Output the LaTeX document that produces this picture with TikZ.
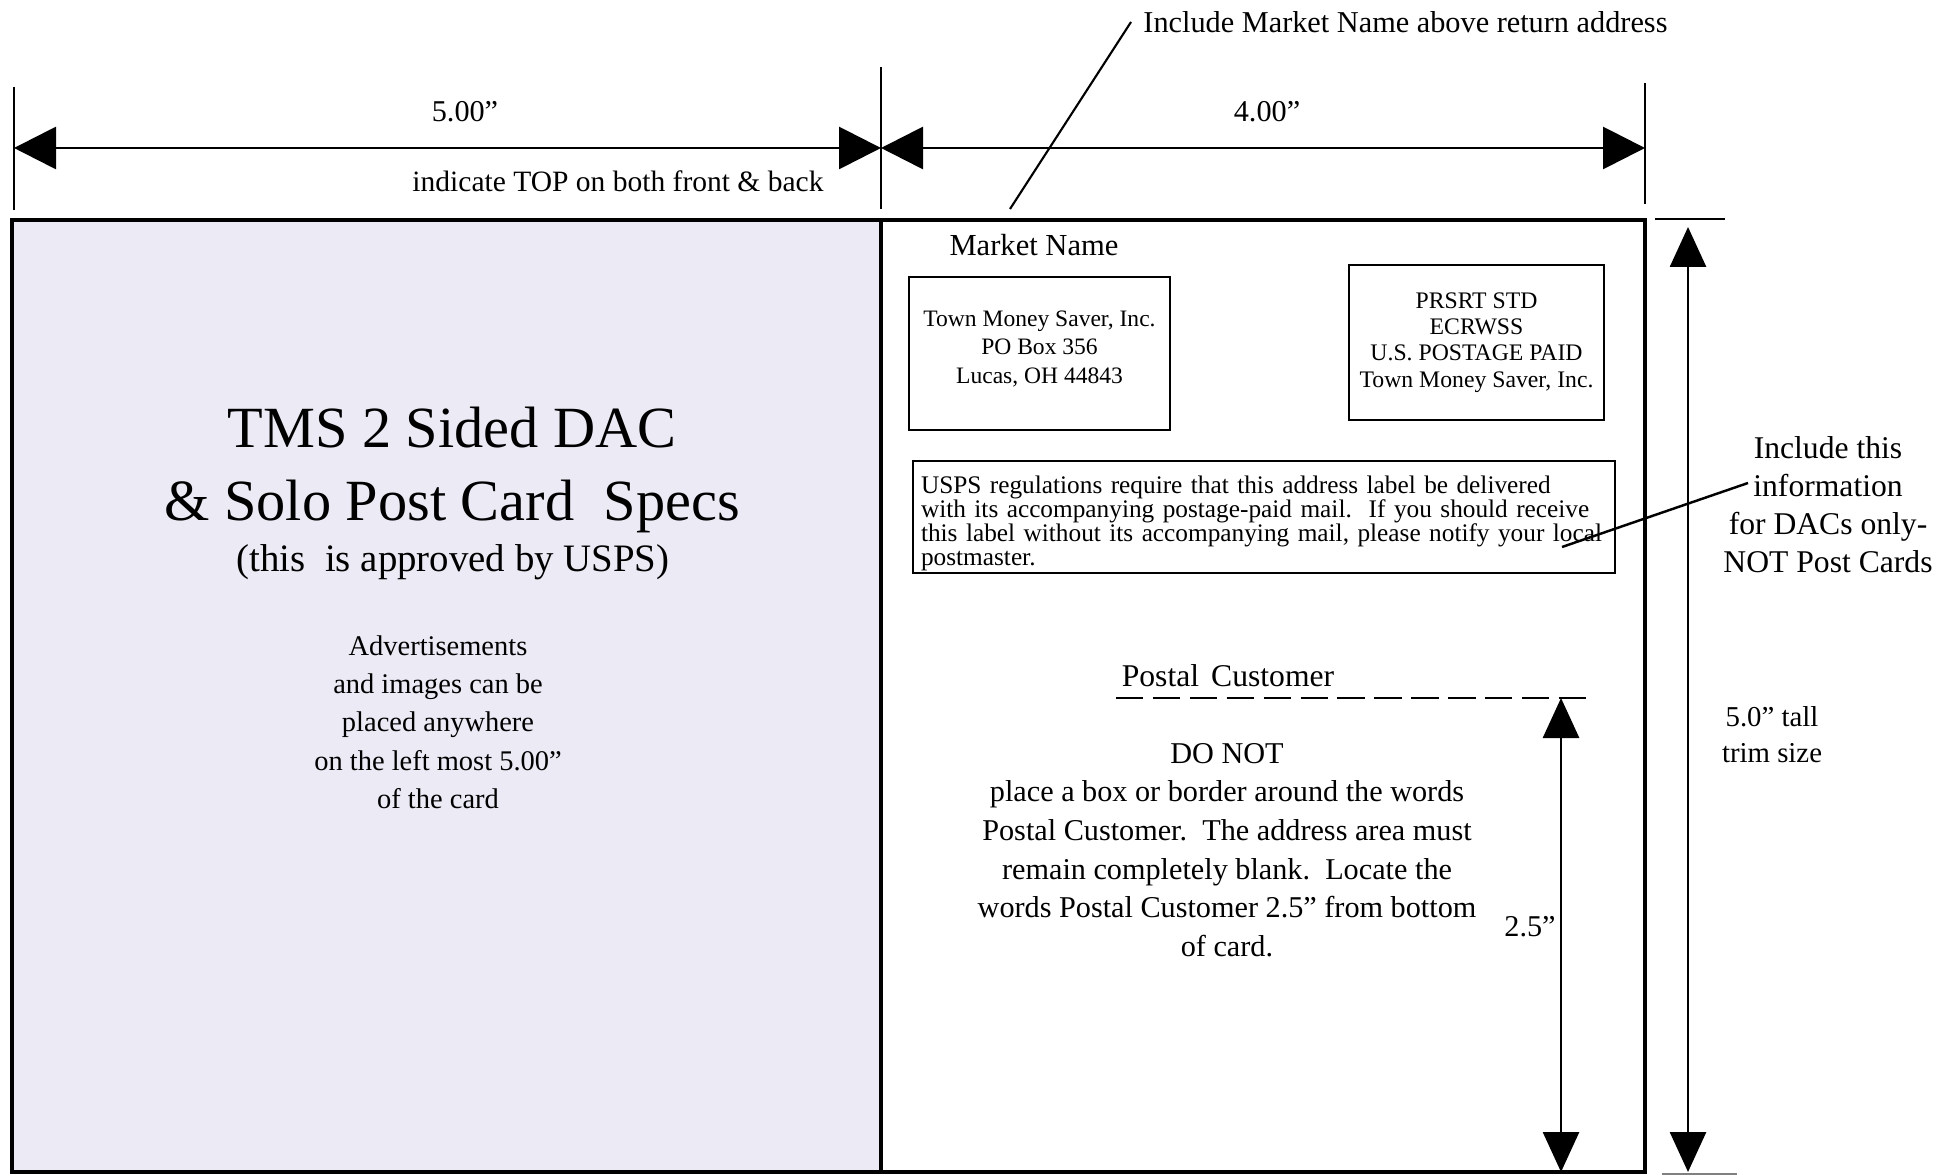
\documentclass[tikz,border=0pt]{standalone}
\usepackage{fontspec}
\setmainfont{Liberation Serif}
\usetikzlibrary{arrows.meta}

\definecolor{frontside}{RGB}{236,234,245}

\begin{document}
\begin{tikzpicture}[x = 0.1mm, y = -0.1mm,
  dimline/.style = {line width = 0.8pt, {Triangle[length = 4.2mm, width = 4.2mm]}-{Triangle[length = 4.2mm, width = 4.2mm]}},
  tallline/.style = {line width = 0.8pt, {Triangle[length = 4mm, width = 3.6mm]}-{Triangle[length = 4mm, width = 3.6mm]}},
  extline/.style = {line width = 0.6pt},
  mailbox/.style = {draw, line width = 0.7pt, inner sep = 0pt, align = center}]
\useasboundingbox (0, 0) rectangle (1942, 1175);
%\draw [very thin, color = gray] (0, 0) grid [step = 100] (1942, 1175);

% the card
\fill [frontside] (12, 220) rectangle (881, 1172);
\draw [line width = 1.2pt] (12, 220) rectangle (1645, 1172);
\draw [line width = 1.2pt] (881, 220) to (881, 1172);

% widths
\draw [extline] (14, 87) to (14, 210);
\draw [extline] (881, 67) to (881, 209);
\draw [extline] (1645, 83) to (1645, 204);
\coordinate (frontL) at (14, 148);
\coordinate (frontR) at (881, 148);
\coordinate (backR) at (1645, 148);
\draw [dimline] (frontL) to (frontR);
\draw [dimline] (frontR) to (backR);
\node [font = \fontsize{8.6}{11}\selectfont] (frontwidth) at (465, 112) {5.00”};
\node [font = \fontsize{8.6}{11}\selectfont] (backwidth) at (1267, 112) {4.00”};
\node [font = \fontsize{8.4}{11}\selectfont] (topnote) at (618, 181) {indicate TOP on both front \& back};
\node [anchor = west, font = \fontsize{8.62}{11}\selectfont] (marketnote) at (1131, 22) {Include Market Name above return address};
\coordinate (marketfoot) at (1010, 209);
\draw [line width = 0.6pt] (marketnote.west) to (marketfoot);

% front side
\node [align = center, font = \fontsize{16.6}{20.8}\selectfont] (title) at (452, 470) {TMS 2 Sided DAC\\ \& Solo Post Card\ \ Specs};
\node [font = \fontsize{11.05}{13}\selectfont] (approved) at (453, 562) {(this\ \ is approved by USPS)};
\node [align = center, font = \fontsize{8.1}{10.9}\selectfont] (adnote) at (438, 722) {Advertisements\\ and images can be\\ placed anywhere\\ on the left most 5.00”\\ of the card};

% back side
\node [font = \fontsize{8.7}{11}\selectfont] (marketname) at (1034, 245) {Market Name};
\node [mailbox, minimum width = 26.1mm, minimum height = 15.3mm, font = \fontsize{6.7}{8.1}\selectfont] (returnaddr) at (1039.5, 353.5) {Town Money Saver, Inc.\\ PO Box 356\\ Lucas, OH 44843\rule[-3.8pt]{0pt}{0pt}};
\node [mailbox, minimum width = 25.5mm, minimum height = 15.5mm, font = \fontsize{6.75}{7.5}\selectfont] (permit) at (1476.5, 342.5) {PRSRT STD\\ ECRWSS\\ U.S. POSTAGE PAID\\ Town Money Saver, Inc.};
\node [mailbox, align = left, text width = 68.6mm, inner xsep = 0.8mm, minimum height = 11.2mm, font = \fontsize{7.2}{6.9}\selectfont] (uspsnote) at (1264, 517) {\rule{0pt}{8.6pt}USPS regulations require that this address label be delivered\\ with its accompanying postage-paid mail.\ \ If you should receive\\ this label without its accompanying mail, please notify your local\\ postmaster.};
\node [align = center, font = \fontsize{9}{10.8}\selectfont] (dacnote) at (1828, 505) {Include this\\ information\\ for DACs only-\\ NOT Post Cards};
\coordinate (dacfoot) at (1562, 547);
\coordinate (dactip) at (1748, 483);
\draw [line width = 0.7pt] (dacfoot) to (dactip);

% postal customer line
\node [font = \fontsize{9}{11}\selectfont] (postal) at (1228, 676) {Postal\hspace{0.38em}Customer};
\coordinate (dashL) at (1116, 698);
\coordinate (dashR) at (1586, 698);
\draw [line width = 0.8pt, dash pattern = on 7.8pt off 2.7pt] (dashL) to (dashR);
\node [align = center, font = \fontsize{8.6}{11}\selectfont] (donot) at (1227, 850) {DO NOT\\ place a box or border around the words\\ Postal Customer.\ \ The address area must\\ remain completely blank.\ \ Locate the\\ words Postal Customer 2.5” from bottom\\ of card.};
\coordinate (custtop) at (1561, 698);
\coordinate (custbot) at (1561, 1172);
\draw [tallline] (custtop) to (custbot);
\node [font = \fontsize{8.6}{11}\selectfont] (custheight) at (1530, 927) {2.5”};

% height
\draw [extline] (1655, 219) to (1725, 219);
\draw [extline, color = gray] (1662, 1174) to (1737, 1174);
\coordinate (talltop) at (1688, 227);
\coordinate (tallbot) at (1688, 1172);
\draw [tallline] (talltop) to (tallbot);
\node [align = center, font = \fontsize{8.2}{10.2}\selectfont] (trimnote) at (1772, 735) {5.0” tall\\ trim size};
\end{tikzpicture}
\end{document}
